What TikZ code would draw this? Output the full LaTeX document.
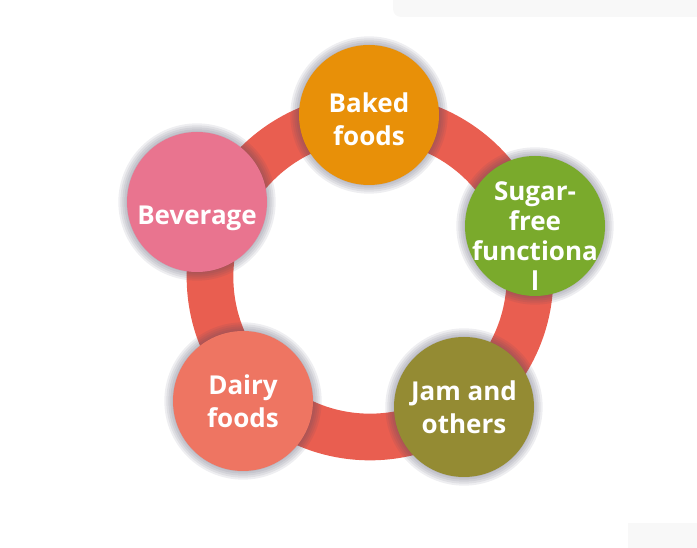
\documentclass[tikz,border=0pt]{standalone}
\usepackage{fontspec}
\setmainfont{Open Sans}
\definecolor{ringred}{RGB}{233,94,80}
\definecolor{bakedorange}{RGB}{232,144,8}
\definecolor{sugargreen}{RGB}{122,170,44}
\definecolor{jamolive}{RGB}{148,139,51}
\definecolor{dairysalmon}{RGB}{238,117,98}
\definecolor{beveragepink}{RGB}{233,116,143}
\definecolor{halogray}{RGB}{70,70,95}
\definecolor{pagegray}{RGB}{248,248,248}
\begin{document}
\begin{tikzpicture}[x=0.75pt,y=-0.75pt,
    word/.style={text=white,align=center,font=\bfseries\fontsize{19.5}{24.5}\selectfont},
    bubble/.style={word,circle,minimum size=105pt,inner sep=0pt},
    halo/.style={fill=halogray,fill opacity=0.09}]
    \useasboundingbox (0,0) rectangle (697,548);
    \fill[pagegray,rounded corners=6pt] (393,-10) rectangle (710,17);
    \fill[pagegray] (628,523) rectangle (697,548);
    \coordinate (hub) at (370,277);
    \draw[ringred,line width=35pt] (hub) circle (120pt);
    \coordinate (baked) at (369,115);
    \coordinate (sugar) at (535,226);
    \coordinate (jam) at (464,407);
    \coordinate (dairy) at (243,401);
    \coordinate (bev) at (197,202);
    \foreach \c in {baked,sugar,jam,dairy,bev}
        \foreach \r in {53,54.5,...,60}
            \fill[halo] (\c) circle (\r pt);
    \node[bubble,fill=bakedorange,label={[word,yshift=-3pt]center:Baked\\foods}] (bakedb) at (baked) {};
    \node[bubble,fill=sugargreen,label={[word,font=\bfseries\fontsize{19.5}{22.5}\selectfont,yshift=-7.5pt]center:Sugar-\\free\\functiona\\l}] (sugarb) at (sugar) {};
    \node[bubble,fill=jamolive] (jamb) at (jam) {Jam and\\others};
    \node[bubble,fill=dairysalmon] (dairyb) at (dairy) {Dairy\\foods};
    \node[bubble,fill=beveragepink,label={[word,yshift=-12pt]center:Beverage}] (bevb) at (bev) {};
\end{tikzpicture}
\end{document}
